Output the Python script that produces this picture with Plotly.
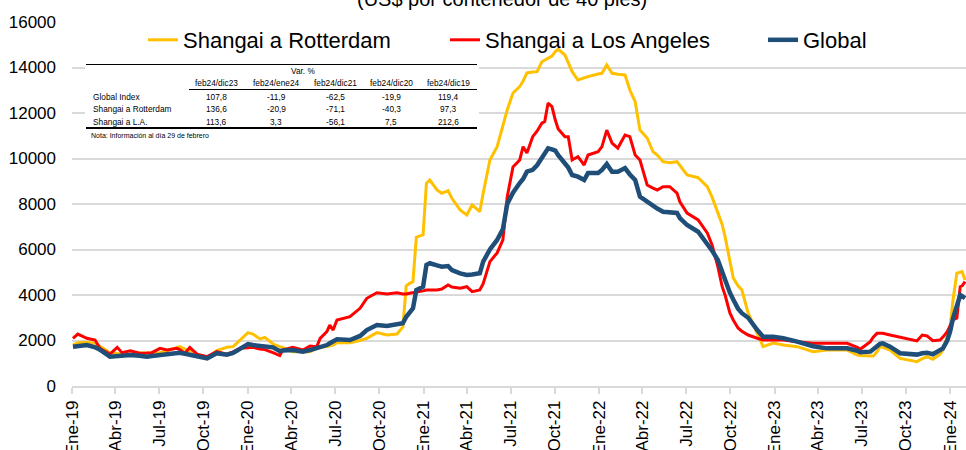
import plotly.graph_objects as go

# ---------------- DATA ----------------
fechas = [
    "2019-01-03", "2019-01-13", "2019-02-01", "2019-02-18", "2019-02-28", "2019-03-21", "2019-04-05",
    "2019-04-15", "2019-05-02", "2019-05-22", "2019-06-06", "2019-06-16", "2019-07-03", "2019-07-18",
    "2019-08-07", "2019-08-13", "2019-08-24", "2019-09-03", "2019-09-18", "2019-10-09", "2019-10-29",
    "2019-11-19", "2019-12-02", "2019-12-16", "2020-01-02", "2020-01-12", "2020-01-27", "2020-02-06",
    "2020-02-23", "2020-03-08", "2020-03-14", "2020-04-04", "2020-04-25", "2020-05-10", "2020-05-24",
    "2020-05-31", "2020-06-14", "2020-06-20", "2020-06-27", "2020-07-05", "2020-08-01", "2020-08-22",
    "2020-09-05", "2020-09-26", "2020-10-17", "2020-11-07", "2020-11-19", "2020-11-26", "2020-12-03",
    "2020-12-10", "2020-12-17", "2020-12-24", "2020-12-31", "2021-01-07", "2021-01-14", "2021-01-29",
    "2021-02-08", "2021-02-21", "2021-03-01", "2021-03-18", "2021-04-01", "2021-04-12", "2021-04-28",
    "2021-05-05", "2021-05-19", "2021-06-03", "2021-06-15", "2021-06-24", "2021-07-06", "2021-07-20",
    "2021-07-27", "2021-08-04", "2021-08-16", "2021-08-25", "2021-09-04", "2021-09-10", "2021-09-17",
    "2021-09-25", "2021-10-02", "2021-10-08", "2021-10-22", "2021-10-29", "2021-11-06", "2021-11-18",
    "2021-12-01", "2021-12-09", "2021-12-30", "2022-01-07", "2022-01-17", "2022-01-28", "2022-02-09",
    "2022-02-24", "2022-03-06", "2022-03-17", "2022-03-27", "2022-04-11", "2022-04-23", "2022-05-02",
    "2022-05-14", "2022-05-28", "2022-06-12", "2022-06-18", "2022-07-03", "2022-07-26", "2022-08-14",
    "2022-08-24", "2022-09-05", "2022-09-14", "2022-09-20", "2022-09-30", "2022-10-07", "2022-10-17",
    "2022-10-25", "2022-11-07", "2022-11-26", "2022-12-08", "2022-12-29", "2023-01-19", "2023-02-17",
    "2023-03-22", "2023-04-20", "2023-06-01", "2023-06-22", "2023-06-28", "2023-07-19", "2023-07-25",
    "2023-08-02", "2023-08-08", "2023-08-14", "2023-08-29", "2023-09-19", "2023-10-16", "2023-10-24",
    "2023-11-04", "2023-11-14", "2023-11-26", "2023-12-11", "2023-12-17", "2023-12-26", "2024-01-01",
    "2024-01-07", "2024-01-15", "2024-01-22", "2024-01-26", "2024-02-01",
]

shangai_rotterdam = [
    1800, 1900, 1920, 1875, 1750, 1465, 1430, 1420, 1400, 1450, 1465, 1465, 1465, 1550,
    1700, 1730, 1620, 1550, 1400, 1230, 1560, 1700, 1730, 2020, 2345, 2285, 2070, 2140,
    1845, 1730, 1700, 1510, 1510, 1510, 1650, 1700, 1730, 1760, 1800, 1905, 1900, 2000,
    2095, 2345, 2240, 2285, 2600, 4400, 4515, 4585, 6535, 6600, 6640, 8910, 9055, 8616,
    8470, 8585, 8250, 7737, 7517, 7957, 7660, 8470, 9935, 10520, 11500, 12133, 12880, 13158,
    13400, 13760, 13800, 13817, 14250, 14331, 14400, 14500, 14700, 14800, 14550, 14200, 13817, 13450,
    13550, 13600, 13715, 13745, 14110, 13745, 13700, 13670, 13010, 12500, 11250, 10900, 10300, 10150,
    9860, 9817, 9860, 9700, 9275, 9157, 8760, 8300, 7605, 7100, 6563, 5500, 4750, 4400,
    4220, 3210, 2330, 1730, 1890, 1800, 1730, 1510, 1580, 1580, 1360, 1340, 1320, 1320,
    1500, 1730, 1700, 1580, 1215, 1100, 1070, 1200, 1290, 1175, 1400, 1580, 2200, 2600,
    3780, 4960, 5000, 5025, 4660,
]

shangai_los_angeles = [
    2095, 2285, 2095, 2020, 1655, 1400, 1700, 1465, 1550, 1440, 1450, 1465, 1655, 1580,
    1655, 1600, 1440, 1700, 1400, 1290, 1510, 1400, 1500, 1655, 1680, 1700, 1630, 1600,
    1465, 1340, 1580, 1700, 1580, 1760, 1730, 2095, 2390, 2680, 2460, 2900, 3045, 3415,
    3855, 4100, 4045, 4100, 4045, 4045, 4080, 4100, 4145, 4150, 4180, 4220, 4220, 4220,
    4260, 4440, 4350, 4295, 4365, 4145, 4220, 4500, 5465, 5850, 6420, 8310, 9630, 9935,
    10520, 10240, 10960, 11200, 11550, 11620, 12440, 12280, 11690, 11300, 10960, 10960, 9935, 10080,
    9715, 10155, 10300, 10520, 11250, 10680, 10460, 11030, 10960, 10155, 9935, 8836, 8700, 8616,
    8760, 8760, 8480, 8100, 7600, 7300, 6725, 6200, 5245, 4365, 4000, 3210, 2900, 2550,
    2400, 2240, 2100, 2020, 2020, 2020, 1950, 1875, 1875, 1875, 1700, 1613, 1950, 2150,
    2315, 2315, 2315, 2240, 2140, 2000, 1980, 2240, 2200, 1990, 2020, 2150, 2390, 2650,
    2900, 2990, 4365, 4400, 4585,
]

global_index = [
    1730, 1760, 1800, 1700, 1600, 1290, 1330, 1360, 1360, 1330, 1290, 1320, 1360, 1360,
    1450, 1465, 1420, 1380, 1330, 1215, 1440, 1380, 1450, 1655, 1845, 1800, 1750, 1740,
    1700, 1530, 1560, 1580, 1510, 1580, 1655, 1700, 1800, 1880, 1950, 2050, 2020, 2200,
    2460, 2680, 2640, 2700, 2755, 3045, 3200, 3415, 4220, 4300, 4365, 5320, 5395, 5300,
    5245, 5275, 5100, 4950, 4880, 4900, 4955, 5465, 6000, 6420, 6900, 8000, 8500, 8920,
    9100, 9420, 9500, 9700, 10010, 10200, 10450, 10400, 10350, 10150, 9800, 9600, 9275, 9200,
    9055, 9360, 9360, 9500, 9760, 9420, 9420, 9580, 9300, 9055, 8320, 8100, 7900, 7800,
    7660, 7620, 7605, 7385, 7075, 6780, 6270, 5950, 5540, 5000, 4700, 4100, 3800, 3400,
    3200, 3000, 2460, 2170, 2170, 2100, 1950, 1750, 1655, 1655, 1550, 1480, 1510, 1600,
    1750, 1850, 1875, 1730, 1440, 1360, 1380, 1440, 1465, 1395, 1550, 1655, 2000, 2400,
    2975, 3500, 4000, 3950, 3855,
]

tick_fechas = [
    "2019-01-01", "2019-04-01", "2019-07-01", "2019-10-01",
    "2020-01-01", "2020-04-01", "2020-07-01", "2020-10-01",
    "2021-01-01", "2021-04-01", "2021-07-01", "2021-10-01",
    "2022-01-01", "2022-04-01", "2022-07-01", "2022-10-01",
    "2023-01-01", "2023-04-01", "2023-07-01", "2023-10-01",
    "2024-01-01",
]
tick_etiquetas = [
    "Ene-19", "Abr-19", "Jul-19", "Oct-19",
    "Ene-20", "Abr-20", "Jul-20", "Oct-20",
    "Ene-21", "Abr-21", "Jul-21", "Oct-21",
    "Ene-22", "Abr-22", "Jul-22", "Oct-22",
    "Ene-23", "Abr-23", "Jul-23", "Oct-23",
    "Ene-24",
]

tabla_titulo = "Var. %"
tabla_columnas = ["feb24/dic23", "feb24/ene24", "feb24/dic21", "feb24/dic20", "feb24/dic19"]
tabla_filas = ["Global Index", "Shangai a Rotterdam", "Shangai a L.A."]
tabla_valores = [
    [107.8, -11.9, -62.5, -19.9, 119.4],
    [136.6, -20.9, -71.1, -40.3, 97.3],
    [113.6, 3.3, -56.1, 7.5, 212.6],
]
tabla_nota = "Nota: Información al día 29 de febrero"
titulo = "(US$ por contenedor de 40 pies)"

# ---------------- LAYOUT HELPERS ----------------
W, H = 966, 450
ML, MR, MT, MB = 72, 0, 22, 64
PW = W - ML - MR
PH = H - MT - MB


def px(x):
    return (x - ML) / PW


def py(y):
    return (H - MB - y) / PH


FONT = "Liberation Sans, Arial, sans-serif"

fig = go.Figure()
fig.add_trace(go.Scatter(x=fechas, y=shangai_rotterdam, mode="lines", name="Shangai a Rotterdam",
                         line=dict(color="#FFC000", width=3), legend="legend"))
fig.add_trace(go.Scatter(x=fechas, y=shangai_los_angeles, mode="lines", name="Shangai a Los Angeles",
                         line=dict(color="#FF0000", width=3), legend="legend2"))
fig.add_trace(go.Scatter(x=fechas, y=global_index, mode="lines", name="Global",
                         line=dict(color="#1F4E79", width=4.5), legend="legend3"))

leg_common = dict(orientation="h", yanchor="middle", xanchor="left", y=py(40),
                  font=dict(family=FONT, size=22, color="#000000"),
                  bgcolor="rgba(0,0,0,0)", borderwidth=0)

shapes = []
annotations = []

# table background
shapes.append(dict(type="rect", xref="paper", yref="paper", x0=px(85), x1=px(479),
                   y0=py(145), y1=py(57), fillcolor="white", line=dict(width=0), layer="above"))
# table lines
shapes.append(dict(type="line", xref="paper", yref="paper", x0=px(86), x1=px(477),
                   y0=py(64.5), y1=py(64.5), line=dict(color="black", width=1), layer="above"))
shapes.append(dict(type="line", xref="paper", yref="paper", x0=px(189), x1=px(477),
                   y0=py(89.5), y1=py(89.5), line=dict(color="black", width=1), layer="above"))
shapes.append(dict(type="line", xref="paper", yref="paper", x0=px(86), x1=px(477),
                   y0=py(128), y1=py(128), line=dict(color="black", width=2), layer="above"))

col_x = [216, 276, 335, 391, 448]
row_y = [96.5, 109, 121.7]
tfont = dict(family=FONT, size=8.3, color="#000000")


def fmt(v):
    return f"{v:.1f}".replace(".", ",")


annotations.append(dict(xref="paper", yref="paper", x=px(303), y=py(71), text=tabla_titulo,
                        showarrow=False, font=tfont, xanchor="center", yanchor="middle"))
for cx, c in zip(col_x, tabla_columnas):
    annotations.append(dict(xref="paper", yref="paper", x=px(cx), y=py(83.5), text=c,
                            showarrow=False, font=tfont, xanchor="center", yanchor="middle"))
for ry, fila, vals in zip(row_y, tabla_filas, tabla_valores):
    annotations.append(dict(xref="paper", yref="paper", x=px(91), y=py(ry), text=fila,
                            showarrow=False, font=tfont, xanchor="left", yanchor="middle"))
    for cx, v in zip(col_x, vals):
        annotations.append(dict(xref="paper", yref="paper", x=px(cx), y=py(ry), text=fmt(v),
                                showarrow=False, font=tfont, xanchor="center", yanchor="middle"))
annotations.append(dict(xref="paper", yref="paper", x=px(89), y=py(135), text=tabla_nota,
                        showarrow=False, font=dict(family=FONT, size=7, color="#000000"),
                        xanchor="left", yanchor="middle"))
# title (cut off at the top as in the source)
annotations.append(dict(xref="paper", yref="paper", x=px(502), y=py(-1.5), text=titulo,
                        showarrow=False, font=dict(family=FONT, size=20, color="#000000"),
                        xanchor="center", yanchor="middle"))

fig.update_layout(
    width=W, height=H,
    margin=dict(l=ML, r=MR, t=MT, b=MB, autoexpand=False),
    paper_bgcolor="white", plot_bgcolor="white",
    font=dict(family=FONT, color="#000000"),
    legend=dict(leg_common, x=px(143)),
    legend2=dict(leg_common, x=px(445)),
    legend3=dict(leg_common, x=px(763)),
    shapes=shapes,
    annotations=annotations,
    xaxis=dict(
        type="date", range=["2019-01-01", "2024-02-03"], automargin=False,
        tickmode="array", tickvals=tick_fechas, ticktext=tick_etiquetas,
        tickangle=-90, tickfont=dict(family=FONT, size=17, color="#000000"),
        showgrid=False, showline=True, linecolor="#D9D9D9", linewidth=1.5,
        ticks="outside", ticklen=6, tickcolor="#D9D9D9", tickwidth=1.5,
        zeroline=False,
    ),
    yaxis=dict(
        range=[0, 16000], tickmode="array", tickvals=list(range(0, 16001, 2000)),
        tickformat="d", automargin=False,
        tickfont=dict(family=FONT, size=17, color="#000000"),
        showgrid=True, gridcolor="#D9D9D9", gridwidth=1.5,
        zeroline=False, showline=False, ticklabelstandoff=15,
    ),
    showlegend=True,
)

fig.write_html(
    "out.html",
    config={"displayModeBar": False},
    post_script="document.body.style.margin='0';document.body.style.overflow='hidden';",
)
